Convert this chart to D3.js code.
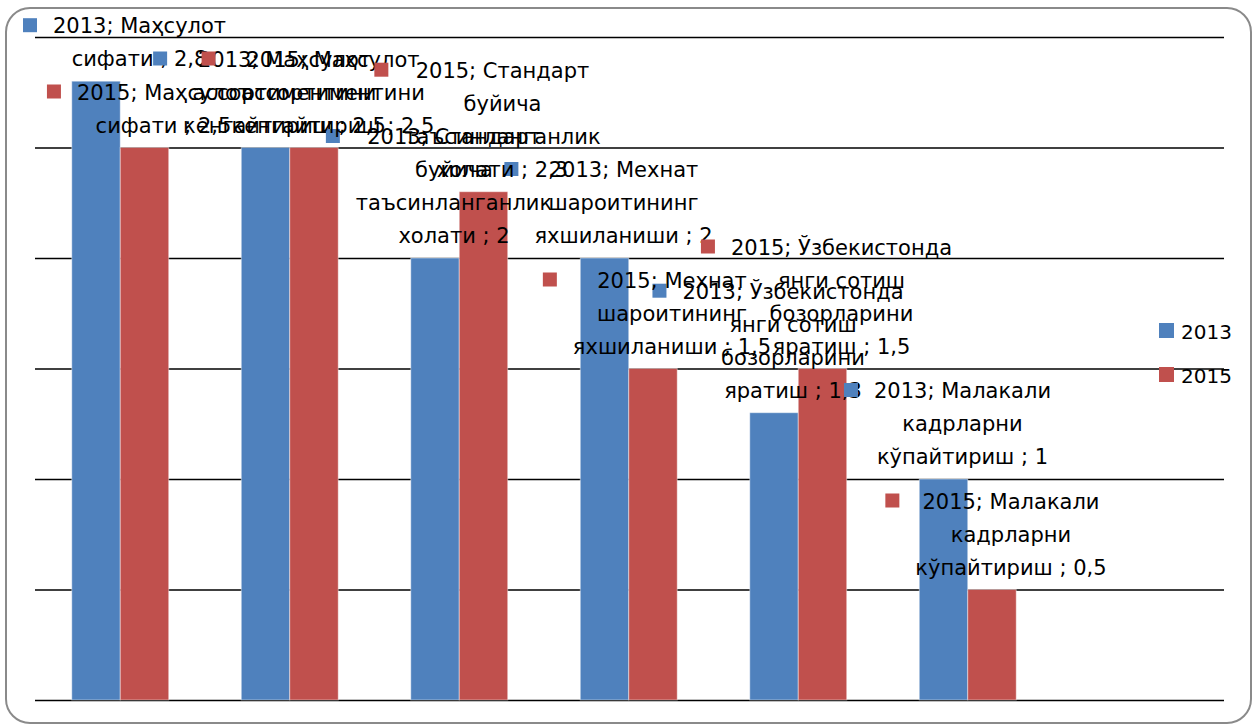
<!DOCTYPE html>
<html>
<head>
<meta charset="utf-8">
<script src="https://cdn.jsdelivr.net/npm/d3@7"></script>
<style>
  body { margin: 0; background: #fff; }
  text { font-family: "DejaVu Sans", sans-serif; }
</style>
</head>
<body>
<div id="chart"></div>
<script>
// data
let catLines = [
    ['Маҳсулот', 'сифати'],
    ['Маҳсулот', 'ассортиментини', 'кенгайтириш'],
    ['Стандарт', 'буйича', 'таъсинланганлик', 'холати'],
    ['Мехнат', 'шароитининг', 'яхшиланиши'],
    ['Ўзбекистонда', 'янги сотиш', 'бозорларини', 'яратиш'],
    ['Малакали', 'кадрларни', 'кўпайтириш']
];
let categories = catLines.map(l => l.join(' '));
let years = ['2013', '2015'];
let values2013 = [2.8, 2.5, 2, 2, 1.3, 1];
let values2015 = [2.5, 2.5, 2.3, 1.5, 1.5, 0.5];
let yTicks = [0, 0.5, 1, 1.5, 2, 2.5, 3];
let colors = {'2013': '#4F81BD', '2015': '#C0504D'};

let svgWidth = 1259;
let svgHeight = 726;

let svg = d3.select('#chart').append('svg')
    .attr('width', svgWidth)
    .attr('height', svgHeight);

// outer frame
svg.append('rect')
    .attr('x', 6).attr('y', 8)
    .attr('width', 1245).attr('height', 715)
    .attr('rx', 24)
    .attr('fill', '#fff')
    .attr('stroke', '#8a8a8a')
    .attr('stroke-width', 2);

let plotLeft = 35, plotRight = 1224;
let step = 169.5;

let x = d3.scaleBand()
    .domain(categories)
    .range([plotLeft + 0.5, plotLeft + 0.5 + step * categories.length])
    .paddingInner(0.428)
    .paddingOuter(0.214);

let xs = d3.scaleBand()
    .domain(years)
    .range([0, x.bandwidth()]);

let y = d3.scaleLinear()
    .domain([0, 3])
    .range([700, 37]);

// gridlines
let grid = svg.append('g')
    .attr('transform', `translate(${plotLeft}, 0)`)
    .call(d3.axisLeft(y).tickValues(yTicks).tickSize(-(plotRight - plotLeft)).tickFormat(''));
grid.select('.domain').remove();
grid.selectAll('line').attr('stroke', '#000').attr('stroke-width', 1.5);

let series = years.map((yr, k) => ({
    year: yr,
    values: (k === 0 ? values2013 : values2015)
}));

let rows = [];
series.forEach(s => {
    s.values.forEach((v, i) => rows.push({year: s.year, cat: categories[i], idx: i, value: v}));
});

// bars
svg.append('g').selectAll('rect')
    .data(rows)
    .enter().append('rect')
    .attr('x', d => x(d.cat) + xs(d.year))
    .attr('y', d => y(d.value))
    .attr('width', xs.bandwidth())
    .attr('height', d => y(0) - y(d.value))
    .attr('fill', d => colors[d.year])
    .attr('stroke', 'rgba(255,255,255,0.45)')
    .attr('stroke-width', 1);

// data labels with legend keys
let lineH = 33;
let fontSize = 21;
let labels = svg.append('g');

rows.forEach(d => {
    let parts = catLines[d.idx];
    let lines = [d.year + '; ' + parts[0]].concat(parts.slice(1));
    lines[lines.length - 1] += ' ; ' + String(d.value).replace('.', ',');

    let bx = x(d.cat) + xs(d.year) + xs.bandwidth() / 2;
    let top = y(d.value);
    let lastBase = top - 15;
    let firstBase = lastBase - (lines.length - 1) * lineH;
    let cx = bx + 19;

    let g = labels.append('g');
    let t = g.append('text')
        .attr('text-anchor', 'middle')
        .attr('font-size', fontSize)
        .attr('fill', '#000');
    let spans = lines.map((ln, j) => t.append('tspan')
        .attr('x', cx)
        .attr('y', firstBase + j * lineH)
        .text(ln));
    let w = d3.max(spans, sp => sp.node().getComputedTextLength());
    let keyX = cx - w / 2 - 16 - 14;
    let shift = keyX < 23 ? 23 - keyX : 0;
    spans.forEach(sp => sp.attr('x', cx + shift));
    g.insert('rect', 'text')
        .attr('x', keyX + shift)
        .attr('y', firstBase - 15)
        .attr('width', 14).attr('height', 14)
        .attr('fill', colors[d.year]);
});

// legend
let legend = svg.append('g');
years.forEach((yr, k) => {
    legend.append('rect')
        .attr('x', 1159).attr('y', 323 + k * 44)
        .attr('width', 15).attr('height', 15)
        .attr('fill', colors[yr]);
    legend.append('text')
        .attr('x', 1181).attr('y', 339 + k * 44)
        .attr('font-size', 20)
        .attr('fill', '#000')
        .text(yr);
});
</script>
</body>
</html>
